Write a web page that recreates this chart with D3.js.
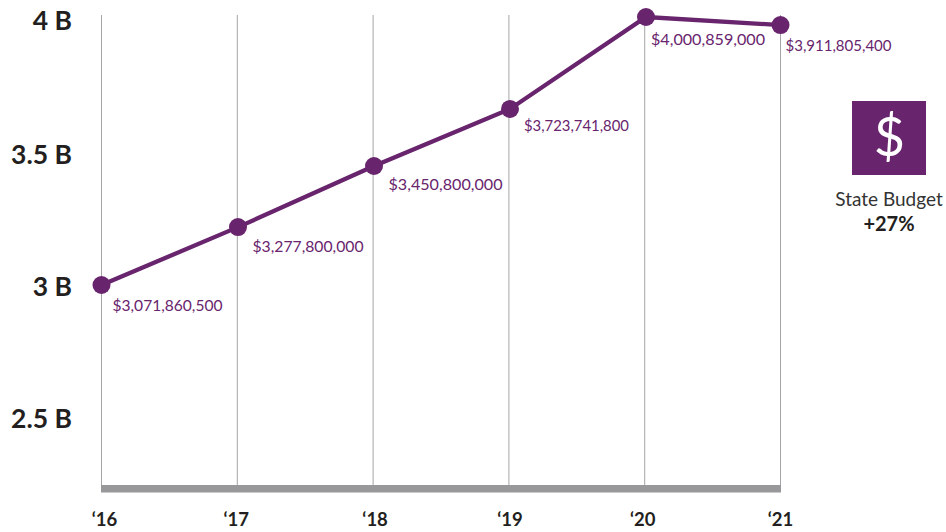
<!DOCTYPE html>
<html><head><meta charset="utf-8">
<script src="https://cdn.jsdelivr.net/npm/d3@7"></script>
<style>html,body{margin:0;padding:0;background:#fff}svg{display:block}text{font-family:Lato,sans-serif}</style>
</head><body><svg id="c" width="946" height="532"></svg>
<script>
const years = ["‘16","‘17","‘18","‘19","‘20","‘21"];
const plotted = [3.0, 3.216, 3.444, 3.657, 4.0, 3.97];
const valueLabels = ["$3,071,860,500","$3,277,800,000","$3,450,800,000","$3,723,741,800","$4,000,859,000","$3,911,805,400"];
const yTicks = [2.5, 3, 3.5, 4];
const yTickLabels = ["2.5 B","3 B","3.5 B","4 B"];
const labelDx = [11, 14.5, 14.5, 14, 5, 5];
const labelDy = [26, 25, 24, 22, 28, 26];
const labelWidths = [110, 111, 114, 105, 114, 106];
const tickDy = [9, 11, 13, 13];
const yearDx = [3, -1, 2, 1, -2, 0];
const pointDx = [0, 0.7, 0.9, 1.1, 1.3, 0];
const purple = "#68246d";
const svg = d3.select("#c");
const x = d3.scalePoint().domain(years).range([101.5, 780.5]);
const y = d3.scaleLinear().domain([3, 4]).range([285, 17]);
const xpos = years.map((d, i) => x(d) + pointDx[i]);
svg.append("g").selectAll("line").data(years).join("line")
  .attr("x1", d => x(d)).attr("x2", d => x(d)).attr("y1", 15).attr("y2", 485)
  .attr("stroke", "#a5a5a7").attr("stroke-width", 1);
svg.append("rect").attr("x", 101).attr("y", 485).attr("width", 680).attr("height", 7.5).attr("fill", "#98989b");
svg.append("path").datum(plotted)
  .attr("d", d3.line().x((d, i) => xpos[i]).y(d => y(d)))
  .attr("fill", "none").attr("stroke", purple).attr("stroke-width", 4.3);
svg.append("g").selectAll("circle").data(plotted).join("circle")
  .attr("cx", (d, i) => xpos[i]).attr("cy", d => y(d)).attr("r", 9).attr("fill", purple);
svg.append("g").selectAll("text").data(valueLabels).join("text")
  .attr("x", (d, i) => xpos[i] + labelDx[i]).attr("y", (d, i) => y(plotted[i]) + labelDy[i])
  .attr("textLength", (d, i) => labelWidths[i]).attr("lengthAdjust", "spacingAndGlyphs")
  .attr("font-size", 15.6).attr("fill", purple).text(d => d);
svg.append("g").selectAll("text").data(yTickLabels).join("text")
  .attr("x", 72).attr("y", (d, i) => y(yTicks[i]) + tickDy[i])
  .attr("text-anchor", "end").attr("font-size", 26.5).attr("font-weight", 700).attr("fill", "#231f20").text(d => d);
svg.append("g").selectAll("text").data(years).join("text")
  .attr("x", (d, i) => x(d) + yearDx[i]).attr("y", 526).attr("text-anchor", "middle")
  .attr("font-size", 18.5).attr("font-weight", 700).attr("fill", "#231f20").text(d => d);
svg.append("rect").attr("x", 852).attr("y", 101).attr("width", 74).attr("height", 74).attr("fill", purple);
svg.append("text").attr("x", 889.5).attr("y", 156).attr("text-anchor", "middle").attr("font-size", 54).attr("font-weight", 400).attr("fill", "#fff").text("$");
svg.append("text").attr("x", 889).attr("y", 205.5).attr("text-anchor", "middle").attr("font-size", 19).attr("fill", "#333").text("State Budget");
svg.append("text").attr("x", 889).attr("y", 231).attr("text-anchor", "middle").attr("font-size", 20).attr("font-weight", 700).attr("fill", "#231f20").text("+27%");
</script></body></html>
